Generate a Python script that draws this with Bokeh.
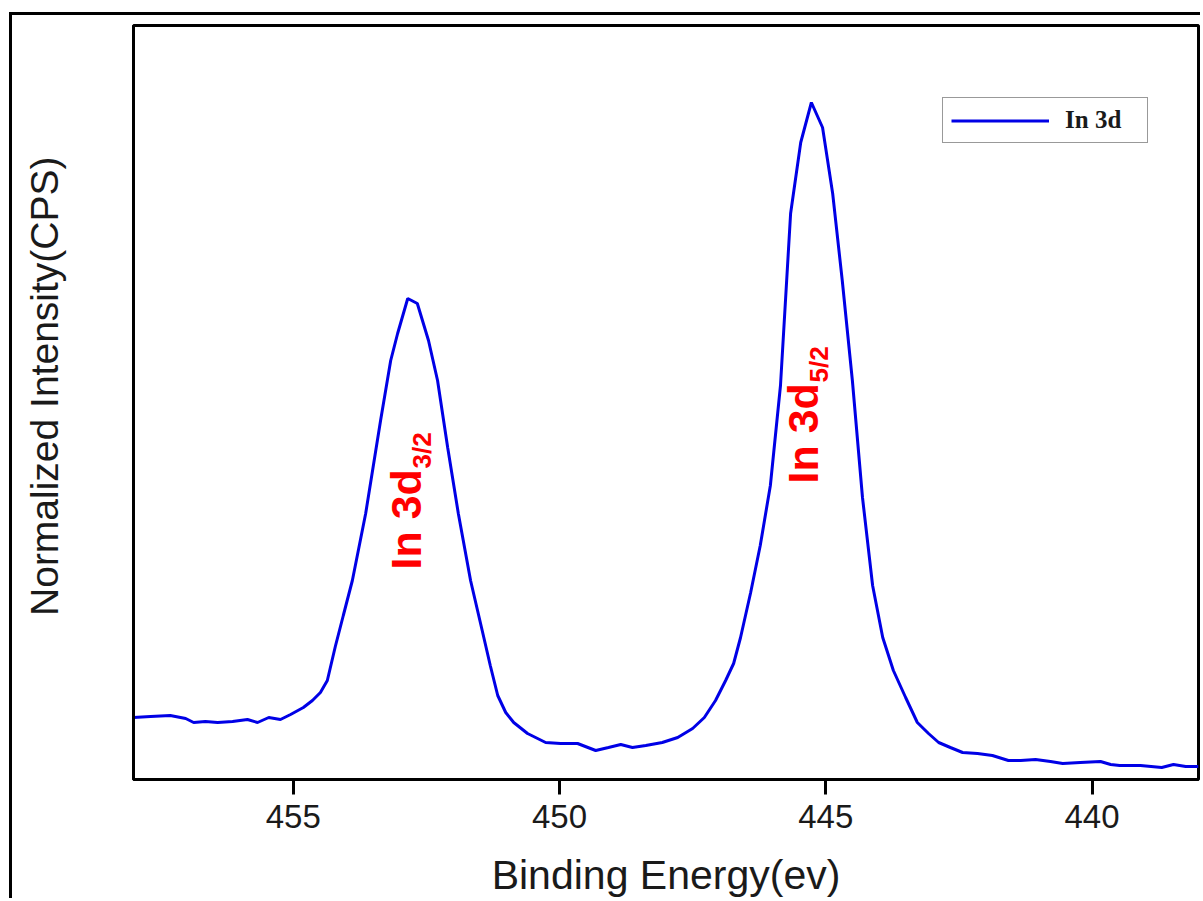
from bokeh.plotting import figure
from bokeh.models import Range1d, FixedTicker, Legend, LegendItem
from bokeh.core.properties import value
from bokeh.embed import file_html
from bokeh.resources import INLINE
import math

# ---- data (binding energy in eV, intensity in arbitrary units) ----
energy = [458.00, 457.68, 457.31, 457.02, 456.87, 456.65, 456.42, 456.14, 455.86, 455.67,
          455.46, 455.24, 455.05, 454.81, 454.64, 454.49, 454.36, 454.21, 454.06, 453.89,
          453.64, 453.36, 453.17, 453.04, 452.85, 452.67, 452.46, 452.29, 452.10, 451.90,
          451.67, 451.43, 451.30, 451.16, 451.01, 450.86, 450.60, 450.26, 449.98, 449.66,
          449.32, 449.08, 448.85, 448.63, 448.38, 448.07, 447.78, 447.50, 447.28, 447.07,
          446.88, 446.73, 446.60, 446.41, 446.23, 446.04, 445.85, 445.66, 445.47, 445.27,
          445.06, 444.87, 444.69, 444.50, 444.31, 444.12, 443.93, 443.73, 443.50, 443.28,
          443.07, 442.88, 442.66, 442.43, 442.15, 441.87, 441.57, 441.34, 441.06, 440.78,
          440.55, 440.22, 439.84, 439.65, 439.48, 439.09, 438.69, 438.47, 438.24, 438.00]
intensity = [62, 63, 64, 61, 57, 58, 57, 58, 60, 57,
             62, 60, 65, 72, 79, 87, 99, 133, 164, 199,
             266, 359, 419, 446, 481, 476, 439, 399, 332, 266,
             199, 144, 114, 84, 67, 57, 46, 37, 36, 36,
             29, 32, 35, 32, 34, 37, 42, 51, 62, 79,
             99, 116, 142, 187, 234, 294, 394, 566, 637, 677,
             652, 586, 499, 399, 282, 194, 142, 109, 82, 57,
             46, 37, 32, 27, 26, 24, 19, 19, 20, 18,
             16, 17, 18, 15, 14, 14, 12, 15, 13, 13]

series_name = "In 3d"
x_ticks = [455, 450, 445, 440]
x_limits = (458, 438)
y_limits = (0, 754)

# peak annotations: main text, subscript, anchor energy, anchor intensity
peak_labels = ["In 3d", "In 3d"]
peak_subs = ["3/2", "5/2"]
peak_x = [452.88, 445.42]
peak_y = [210, 296]

AX_FONT = "Liberation Sans"

p = figure(width=1191, height=886, output_backend="svg", toolbar_location=None,
           x_range=Range1d(*x_limits), y_range=Range1d(*y_limits),
           min_border_left=121, min_border_right=5, min_border_top=10, min_border_bottom=122,
           margin=(12, 0, 0, 9),
           styles={"border-left": "3px solid black", "border-top": "3px solid black"})

p.xgrid.visible = False
p.ygrid.visible = False
p.outline_line_color = "black"
p.outline_line_width = 3
p.background_fill_color = "white"
p.border_fill_color = "white"

r = p.line(energy, intensity, line_color="#0000e6", line_width=3)

# x axis
xa = p.xaxis[0]
xa.ticker = FixedTicker(ticks=x_ticks)
xa.minor_tick_line_color = None
xa.major_tick_in = 0
xa.major_tick_out = 15
xa.major_tick_line_width = 3
xa.major_tick_line_color = "black"
xa.axis_line_color = "black"
xa.axis_line_width = 3
xa.major_label_text_font = AX_FONT
xa.major_label_text_font_size = "33px"
xa.major_label_text_color = "#1a1a1a"
xa.major_label_standoff = 10
xa.axis_label = "Binding Energy(ev)"
xa.axis_label_text_font = AX_FONT
xa.axis_label_text_font_size = "41px"
xa.axis_label_text_font_style = "normal"
xa.axis_label_text_color = "#1a1a1a"
xa.axis_label_standoff = 21

# y axis
ya = p.yaxis[0]
ya.ticker = FixedTicker(ticks=[])
ya.minor_tick_line_color = None
ya.major_tick_line_color = None
ya.major_label_text_font_size = "0px"
ya.axis_line_color = "black"
ya.axis_line_width = 3
ya.axis_label = "\u00a0\u00a0\u00a0Normalized Intensity(CPS)"
ya.axis_label_text_font = AX_FONT
ya.axis_label_text_font_size = "39px"
ya.axis_label_text_font_style = "normal"
ya.axis_label_text_color = "#1a1a1a"
ya.axis_label_standoff = 68

# peak annotations (rotated, red, bold)
p.text(x=peak_x, y=peak_y, text=peak_labels, angle=math.pi / 2,
       text_font=value(AX_FONT), text_font_style="bold", text_font_size="43px",
       text_color="#ff0000", text_align="left", text_baseline="alphabetic")
p.text(x=peak_x, y=peak_y, text=peak_subs, angle=math.pi / 2,
       x_offset=16, y_offset=-101,
       text_font=value(AX_FONT), text_font_style="bold", text_font_size="26px",
       text_color="#ff0000", text_align="left", text_baseline="alphabetic")

# legend
legend = Legend(items=[LegendItem(label=series_name, renderers=[r])],
                location=(809, 636), orientation="vertical",
                glyph_width=98, glyph_height=21, label_standoff=16,
                padding=8, margin=0, spacing=0, label_width=74,
                label_text_font="Liberation Serif", label_text_font_style="bold",
                label_text_font_size="25px", label_text_color="#1a1a1a",
                border_line_color="#333333", border_line_width=1.5,
                background_fill_color="white", background_fill_alpha=1)
p.add_layout(legend)

open("out.html", "w").write(file_html(p, INLINE))
